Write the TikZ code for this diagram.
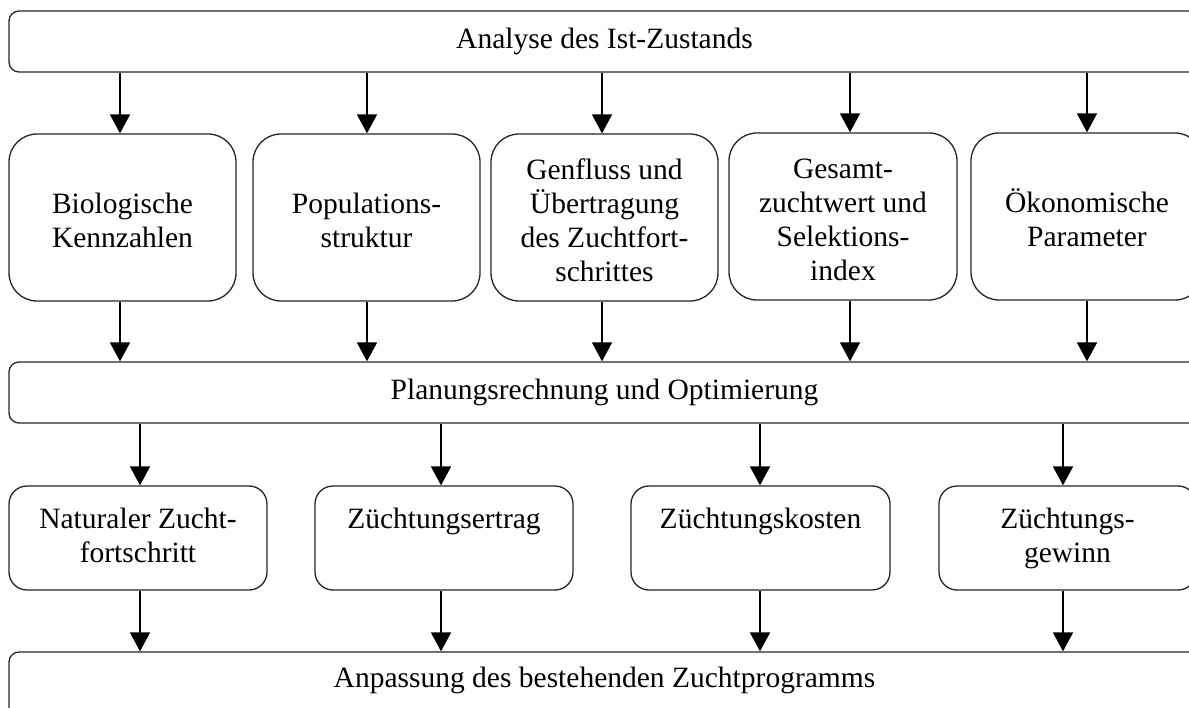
\documentclass[tikz,border=0pt]{standalone}
\usepackage{fontspec}
\setmainfont{Liberation Serif}
\usetikzlibrary{arrows.meta}
\newcommand{\upA}{\rule{0pt}{27pt}}
\newcommand{\dnA}{\rule[-1pt]{0pt}{1pt}}
\newcommand{\upB}{\rule{0pt}{22pt}}
\newcommand{\dnB}{\rule[-8pt]{0pt}{8pt}}
\begin{document}
\begin{tikzpicture}[x=1pt,y=-1pt,
  box/.style={draw=black!85, line width=1.3pt, align=center, inner sep=0pt,
    font=\fontsize{29.5}{34}\selectfont},
  banner/.style={box, rounded corners=10pt, text height=20pt, text depth=6pt,
    minimum width=1191pt, minimum height=61pt},
  tallbox/.style={box, rounded corners=28pt, minimum height=167pt},
  midbox/.style={box, rounded corners=18pt, minimum height=104pt},
  arr/.style={line width=1.8pt, draw=black, -{Triangle[width=20pt,length=19pt]}}]
\useasboundingbox (0,0) rectangle (1189,708);
\clip (0,0) rectangle (1189,708);
\fill[white] (0,0) rectangle (1189,708);

% banners
\node[banner] (top) at (604.5,41.5) {Analyse des Ist-Zustands};
\node[banner] (plan) at (604.5,392.5) {Planungsrechnung und Optimierung};
\node[banner, minimum height=68pt, text height=14pt, text depth=12pt] (bot) at (604.5,686) {Anpassung des bestehenden Zuchtprogramms};

% row 2
\node[tallbox, minimum width=227pt] (b1) at (122.5,217.5) {\upA Biologische\\Kennzahlen\dnA};
\node[tallbox, minimum width=227pt] (b2) at (366.5,217.5) {\upA Populations-\\struktur\dnA};
\node[tallbox, minimum width=227pt] (b3) at (604.5,217.5) {\upA Genfluss und\\Übertragung\\des Zuchtfort-\\schrittes\dnA};
\node[tallbox, minimum width=228pt] (b4) at (843,216.5) {\upA Gesamt-\\zuchtwert und\\Selektions-\\index\dnA};
\node[tallbox, minimum width=232pt] (b5) at (1087,216.5) {\upA Ökonomische\\Parameter\dnA};

% row 4
\node[midbox, minimum width=258pt] (c1) at (138,538) {\upB Naturaler Zucht-\\fortschritt\dnB};
\node[midbox, minimum width=258pt] (c2) at (444,538) {\upB Züchtungsertrag\\\mbox{}\dnB};
\node[midbox, minimum width=259pt] (c3) at (760.5,538) {\upB Züchtungskosten\\\mbox{}\dnB};
\node[midbox, minimum width=257pt] (c4) at (1067.5,538) {\upB Züchtungs-\\gewinn\dnB};

% arrow columns
\coordinate (xa1) at (120,0);
\coordinate (xa2) at (367,0);
\coordinate (xa3) at (602,0);
\coordinate (xa4) at (850,0);
\coordinate (xa5) at (1087,0);
\coordinate (xc1) at (140,0);
\coordinate (xc2) at (441,0);
\coordinate (xc3) at (760,0);
\coordinate (xc4) at (1063,0);

\foreach \i in {1,...,5}{
  \draw[arr] (top.south -| xa\i) -- (b\i.north -| xa\i);
  \draw[arr] (b\i.south -| xa\i) -- (plan.north -| xa\i);
}
\foreach \i in {1,...,4}{
  \draw[arr] (plan.south -| xc\i) -- (c\i.north -| xc\i);
  \draw[arr] (c\i.south -| xc\i) -- (bot.north -| xc\i);
}
\end{tikzpicture}
\end{document}
